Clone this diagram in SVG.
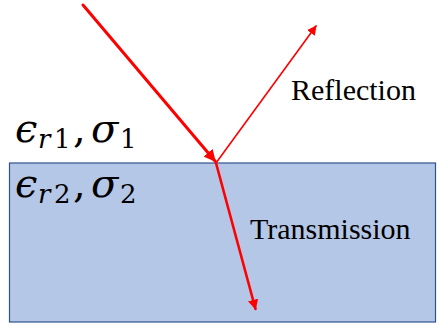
<svg xmlns="http://www.w3.org/2000/svg" width="437" height="325" viewBox="0 0 437 325">
<style>
.ray{stroke:#FF0000;fill:none;stroke-linecap:round}
.lbl{font-family:"Liberation Serif","Times New Roman",serif;font-size:30px;fill:#000}
.mat{font-family:"DejaVu Serif","Liberation Serif",serif;fill:#000}
.it{font-style:italic}
.big{font-size:40px}
.sub{font-size:26px}
</style>
<defs>
<marker id="ah" viewBox="0 0 10 10" refX="9" refY="5" markerWidth="4" markerHeight="4" orient="auto" markerUnits="strokeWidth">
<path d="M0,0 L10,5 L0,10 Z" fill="#FF0000"/>
</marker>
<marker id="ah2" viewBox="0 0 10 10" refX="9" refY="5" markerWidth="6" markerHeight="6" orient="auto" markerUnits="strokeWidth">
<path d="M0,0 L10,5 L0,10 Z" fill="#FF0000"/>
</marker>
</defs>
<g id="medium2">
<rect x="9.5" y="163" width="426" height="159" fill="#B4C7E7" stroke="#2F528F" stroke-width="1.2"/>
</g>
<g id="label1">
<text class="mat"><tspan class="it big" x="15" y="142">ϵ</tspan><tspan class="it sub" x="38" y="148">r</tspan><tspan class="sub" x="54" y="148">1</tspan><tspan class="big" x="73" y="142">,</tspan><tspan class="it big" x="91" y="142">σ</tspan><tspan class="sub" x="120" y="148">1</tspan></text>
</g>
<g id="label2">
<text class="mat"><tspan class="it big" x="15" y="197">ϵ</tspan><tspan class="it sub" x="38" y="203">r</tspan><tspan class="sub" x="54" y="203">2</tspan><tspan class="big" x="73" y="197">,</tspan><tspan class="it big" x="91" y="197">σ</tspan><tspan class="sub" x="120" y="203">2</tspan></text>
</g>
<g id="reflection-label"><text class="lbl" x="291" y="100">Reflection</text></g>
<g id="transmission-label"><text class="lbl" x="250" y="239">Transmission</text></g>
<g id="connectors">
<line class="ray" x1="83" y1="5" x2="215" y2="161" stroke-width="3" marker-end="url(#ah)"/>
<line class="ray" x1="216" y1="163" x2="316" y2="26" stroke-width="1.6" marker-end="url(#ah2)"/>
<line class="ray" x1="216" y1="163" x2="255.5" y2="309" stroke-width="2.6" marker-end="url(#ah)"/>
</g>
</svg>
